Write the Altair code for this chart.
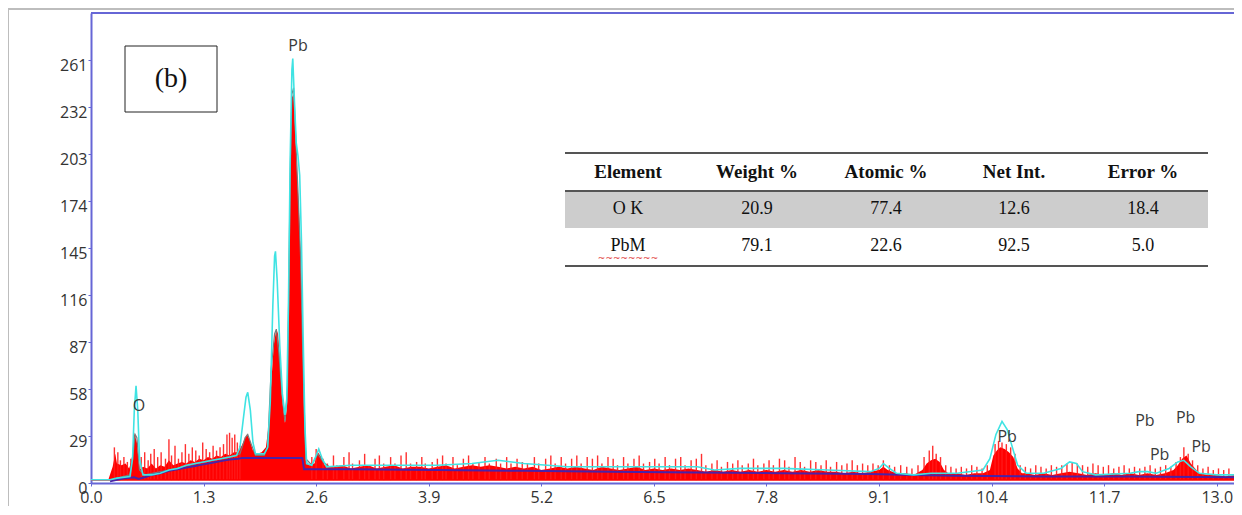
import altair as alt
import pandas as pd

# ---------------- data ----------------
# dense red spectrum (energy keV, counts)
area_pts = [(0.20,2),(0.25,10),(0.28,18),(0.30,12),(0.35,11),(0.40,12),(0.44,9),(0.47,14),(0.50,31),(0.53,25),
            (0.56,8),(0.60,10),(0.65,9),(0.70,12),(0.75,9),(0.80,11),(0.85,10),(0.90,14),(0.95,11),(1.00,12),
            (1.05,13),(1.10,12),(1.15,14),(1.20,13),(1.25,15),(1.30,14),(1.35,16),(1.40,15),(1.45,17),(1.50,16),
            (1.55,18),(1.60,17),(1.65,19),(1.70,19),(1.75,24),(1.80,30),(1.83,27),(1.87,20),(1.92,18),(1.97,19),
            (2.02,22),(2.05,35),(2.08,60),(2.11,85),(2.14,95),(2.16,92),(2.18,78),(2.21,50),(2.24,37),(2.26,45),
            (2.28,120),(2.30,200),(2.32,238),(2.34,240),(2.36,215),(2.38,190),(2.40,170),(2.42,140),(2.44,95),(2.46,45),
            (2.48,14),(2.52,11),(2.58,12),(2.62,19),(2.66,16),(2.70,11),(2.8,10),(2.9,11),(3.0,9),(3.1,10),
            (3.2,11),(3.3,9),(3.4,10),(3.5,11),(3.6,9),(3.7,10),(3.8,10),(3.9,9),(4.0,10),(4.1,11),
            (4.2,9),(4.3,10),(4.4,11),(4.5,10),(4.6,11),(4.7,10),(4.8,9),(4.9,10),(5.0,9),(5.1,10),
            (5.2,8),(5.3,9),(5.4,10),(5.5,9),(5.6,10),(5.7,9),(5.8,8),(5.9,10),(6.0,9),(6.1,8),
            (6.2,9),(6.3,10),(6.4,8),(6.5,9),(6.6,8),(6.7,9),(6.8,8),(6.9,9),(7.0,8),(7.1,7),
            (7.2,8),(7.3,7),(7.4,8),(7.5,7),(7.6,8),(7.7,7),(7.8,8),(7.9,7),(8.0,8),(8.1,7),
            (8.2,8),(8.3,7),(8.4,8),(8.5,7),(8.6,7),(8.7,6),(8.8,7),(8.9,6),(9.0,7),(9.1,8),
            (9.15,10),(9.2,8),(9.3,6),(9.4,6),(9.5,5),(9.6,8),(9.65,12),(9.7,14),(9.75,15),(9.8,13),
            (9.85,8),(9.9,6),(10.0,6),(10.1,5),(10.2,6),(10.3,6),(10.38,8),(10.42,17),(10.46,20),(10.5,22),
            (10.55,21),(10.6,19),(10.65,16),(10.7,9),(10.75,6),(10.8,6),(10.9,5),(11.0,6),(11.1,5),(11.2,6),
            (11.3,7),(11.4,6),(11.5,5),(11.6,6),(11.7,5),(11.8,6),(11.9,5),(12.0,6),(12.1,5),(12.2,6),
            (12.3,5),(12.4,6),(12.5,8),(12.55,11),(12.6,15),(12.65,17),(12.7,12),(12.75,9),(12.8,6),(12.9,5),
            (13.0,5),(13.1,4),(13.2,5),(13.3,4)]

# thin noise spikes of the red spectrum
spike_pts = [(0.27,22),(0.31,19),(0.34,14),(0.38,16),(0.42,13),(0.46,15),
             (0.58,16),(0.62,19),(0.66,14),(0.69,18),(0.73,21),(0.77,16),(0.81,19),(0.86,15),(0.90,27),(0.93,17),
             (0.97,23),(1.01,15),(1.05,19),(1.09,24),(1.13,18),(1.17,22),(1.21,20),(1.25,17),(1.29,25),(1.33,21),
             (1.37,19),(1.41,23),(1.45,20),(1.49,22),(1.53,24),(1.57,30),(1.60,31),(1.63,28),(1.66,30),(1.69,25),(1.72,23),
             (2.55,16),(2.60,21),(2.68,15),(2.73,12),(2.80,17),(2.84,11),(2.92,16),(2.98,19),(3.02,12),(3.10,14),
             (3.16,18),(3.21,11),(3.28,15),(3.33,17),(3.38,12),(3.46,16),(3.51,12),(3.58,17),(3.64,19),(3.69,12),
             (3.76,13),(3.82,16),(3.86,12),(3.94,13),(4.00,15),(4.06,17),(4.10,12),(4.18,16),(4.23,11),(4.30,15),
             (4.36,17),(4.41,12),(4.48,13),(4.55,16),(4.60,12),(4.68,15),(4.73,12),(4.80,16),(4.85,12),(4.92,15),
             (4.98,13),(5.04,12),(5.12,16),(5.17,12),(5.25,15),(5.31,17),(5.36,12),(5.43,16),(5.48,12),(5.55,15),
             (5.61,17),(5.66,12),(5.73,16),(5.79,15),(5.85,17),(5.90,12),(5.97,16),(6.03,15),(6.08,11),(6.15,16),
             (6.20,12),(6.27,15),(6.33,17),(6.38,12),(6.45,13),(6.51,15),(6.56,12),(6.63,16),(6.68,11),(6.75,15),
             (6.81,16),(6.86,11),(6.93,14),(6.99,15),(7.05,18),(7.10,11),(7.17,12),(7.23,14),(7.28,10),(7.35,13),
             (7.41,12),(7.47,14),(7.52,11),(7.59,12),(7.65,15),(7.70,11),(7.77,12),(7.83,14),(7.88,11),(7.95,15),
             (8.01,14),(8.06,10),(8.13,16),(8.19,13),(8.24,10),(8.31,14),(8.37,13),(8.43,11),(8.49,14),(8.54,10),
             (8.61,13),(8.67,11),(8.73,12),(8.79,14),(8.85,11),(8.91,12),(8.97,11),(9.03,12),(9.09,11),(9.15,14),
             (9.22,11),(9.28,10),(9.35,11),(9.42,10),(9.48,9),(9.55,11),(9.62,16),(9.68,20),(9.72,23),(9.76,18),
             (9.81,16),(9.87,11),(9.93,10),(9.99,9),(10.05,10),(10.11,9),(10.17,11),(10.23,10),(10.29,9),(10.35,11),
             (10.44,24),(10.48,26),(10.52,25),(10.57,24),(10.62,22),(10.67,18),(10.73,11),(10.79,10),(10.85,9),(10.91,11),
             (10.97,10),(11.03,9),(11.09,11),(11.15,10),(11.21,11),(11.27,12),(11.33,13),(11.39,12),(11.45,11),(11.51,10),
             (11.57,12),(11.63,11),(11.69,10),(11.75,11),(11.81,9),(11.87,10),(11.93,11),(11.99,9),(12.05,10),(12.11,9),
             (12.17,10),(12.23,11),(12.29,9),(12.35,10),(12.41,11),(12.47,10),(12.53,13),(12.58,16),(12.62,22),(12.67,18),
             (12.72,14),(12.78,11),(12.84,9),(12.90,10),(12.96,8),(13.02,9),(13.08,8),(13.14,9)]

# cyan fitted spectrum
fit_pts = [(0.0,2),(0.22,2),(0.3,3),(0.45,4),(0.48,15),(0.50,45),(0.52,60),(0.54,45),(0.56,15),(0.6,5),
           (0.7,5),(0.8,6),(0.9,8),(1.0,9),(1.1,11),(1.2,12),(1.3,13),(1.4,14),(1.5,15),(1.6,16),
           (1.68,17),(1.72,22),(1.76,40),(1.79,53),(1.81,56),(1.84,45),(1.87,25),(1.9,18),(2.0,18),(2.04,22),
           (2.07,50),(2.10,110),(2.12,140),(2.13,143),(2.15,125),(2.18,85),(2.21,55),(2.24,42),(2.26,50),(2.28,110),
           (2.30,200),(2.32,255),(2.33,262),(2.35,235),(2.37,210),(2.39,202),(2.41,190),(2.43,150),(2.45,90),(2.47,35),
           (2.49,12),(2.55,11),(2.60,17),(2.63,21),(2.67,15),(2.72,10),(3.0,11),(3.5,11),(4.0,11),(4.4,12),
           (4.7,14),(5.0,12),(5.5,10),(6.0,10),(6.5,10),(7.0,10),(7.2,8),(7.5,9),(8.0,9),(8.5,8),
           (9.0,7),(9.1,9),(9.15,12),(9.22,9),(9.3,6),(9.5,5),(9.7,6),(10.0,6),(10.3,8),(10.38,15),
           (10.45,30),(10.52,38),(10.58,33),(10.64,22),(10.7,11),(10.8,6),(11.0,6),(11.2,9),(11.3,13),(11.38,12),
           (11.45,7),(11.6,5),(12.0,6),(12.1,7),(12.2,7),(12.3,6),(12.45,9),(12.55,13),(12.62,14),(12.7,10),
           (12.8,6),(13.0,5),(13.3,5)]

# gray spectrum outline (low energy part)
gray_pts = [(0.22,2),(0.45,5),(0.49,20),(0.51,30),(0.53,28),(0.56,8),(0.62,5),(0.9,8),(1.3,13),(1.6,16),
            (1.72,18),(1.78,28),(1.81,30),(1.85,24),(1.9,17),(2.0,17),(2.04,22),(2.08,70),(2.12,92),(2.14,95),
            (2.17,80),(2.21,52),(2.24,38),(2.27,60),(2.30,190),(2.32,240),(2.34,244),(2.36,218),(2.39,180),(2.42,140),
            (2.45,70),(2.48,15),(2.55,11),(2.62,18),(2.68,13),(2.75,10)]

# purple background
bg_pts = [(0.22,1),(0.3,2),(0.4,3),(0.5,3.5),(0.55,2.5),(0.62,3.5),(0.7,5),(0.8,6),(0.9,7.5),(1.0,8.5),
          (1.1,9.5),(1.2,10.5),(1.3,11.5),(1.4,12.5),(1.5,13.5),(1.6,14.5),(1.7,15),(1.75,15.5),(2.44,15.5),(2.46,8.5),
          (3.0,8.5),(4.0,8),(5.0,7.5),(6.0,7),(7.0,6.5),(8.0,6),(9.0,5.5),(9.5,5),(10.0,4.5),(11.0,4),
          (12.0,4),(13.3,3.5)]

peak_text = ["Pb", "O", "Pb", "Pb", "Pb", "Pb", "Pb"]
peak_e = [2.39, 0.554, 10.58, 12.17, 12.64, 12.34, 12.82]
peak_c = [269.8, 47.5, 28.4, 38.3, 40.1, 17.3, 22.2]

x_ticks = [0.0, 1.3, 2.6, 3.9, 5.2, 6.5, 7.8, 9.1, 10.4, 11.7, 13.0]
y_ticks = [0, 29, 58, 87, 116, 145, 174, 203, 232, 261]

table_head = ["Element", "Weight %", "Atomic %", "Net Int.", "Error %"]
table_rows = [["O K", "20.9", "77.4", "12.6", "18.4"],
              ["PbM", "79.1", "22.6", "92.5", "5.0"]]
panel_label = "(b)"

# ---------------- layout / style ----------------
W, H = 1143, 470
XMAX, YMAX = 13.199, 290.1
BLUE = "#6666d6"
BASE = 1.8

def frame(pts):
    return pd.DataFrame(pts, columns=["e", "c"])

xs = alt.Scale(domain=[0, XMAX], nice=False, zero=False)
ys = alt.Scale(domain=[0, YMAX], nice=False, zero=False)
x_axis = alt.Axis(values=x_ticks, format=".1f", title=None, grid=False, domainColor=BLUE, domainWidth=2,
                  tickColor=BLUE, tickSize=3, labelFont="Open Sans", labelFontSize=16, labelColor="#333333",
                  labelPadding=3, labelFlush=False, labelOverlap=False)
y_axis = alt.Axis(values=y_ticks, format="d", title=None, grid=False, domainColor=BLUE, domainWidth=2,
                  tickColor=BLUE, tickSize=3, labelFont="Open Sans", labelFontSize=16, labelColor="#333333",
                  labelPadding=1, labelOffset=5, labelFlush=False, labelOverlap=False)

def X():
    return alt.X("e:Q", scale=xs, axis=x_axis)

def Y():
    return alt.Y("c:Q", scale=ys, axis=y_axis)

one = pd.DataFrame({"k": [0]})

layers = []
layers.append(alt.Chart(frame(area_pts)).mark_area(color="#ff0000", interpolate="linear", clip=True)
              .encode(x=X(), y=Y(), y2=alt.datum(BASE)))
layers.append(alt.Chart(frame(spike_pts)).mark_rule(color="#ff1a1a", strokeWidth=1.4, opacity=0.9, clip=True)
              .encode(x=X(), y=Y(), y2=alt.datum(BASE)))
layers.append(alt.Chart(one).mark_rule(color="#ff0000", strokeWidth=1.5).encode(y=alt.datum(BASE)))
layers.append(alt.Chart(frame(gray_pts)).mark_line(color="#7a7a7a", strokeWidth=1.2, clip=True).encode(x=X(), y=Y()))
layers.append(alt.Chart(frame(bg_pts)).mark_line(color="#4a22a8", strokeWidth=2, clip=True).encode(x=X(), y=Y()))
layers.append(alt.Chart(frame(fit_pts)).mark_line(color="#3fe3e3", strokeWidth=1.6, clip=True).encode(x=X(), y=Y()))
layers.append(alt.Chart(pd.DataFrame({"t": peak_text, "e": peak_e, "c": peak_c}))
              .mark_text(font="Open Sans", fontSize=16, color="#3a3a3a")
              .encode(x=X(), y=Y(), text="t:N"))

# frame lines
layers.append(alt.Chart(one).mark_rule(color=BLUE, strokeWidth=2).encode(y=alt.value(0)))
layers.append(alt.Chart(one).mark_rule(color="#bdbdbd", strokeWidth=2)
              .encode(x=alt.value(-83), y=alt.value(-5), y2=alt.value(H + 40)))
layers.append(alt.Chart(one).mark_rule(color="#bdbdbd", strokeWidth=2)
              .encode(y=alt.value(-4), x=alt.value(-83), x2=alt.value(W)))

# panel label box
layers.append(alt.Chart(one).mark_rect(fill="white", stroke="#222222", strokeWidth=1)
              .encode(x=alt.value(34), x2=alt.value(126), y=alt.value(33), y2=alt.value(99)))
layers.append(alt.Chart(one).mark_text(font="Liberation Serif", fontSize=28, color="#111111", text=panel_label)
              .encode(x=alt.value(80), y=alt.value(66)))

# table
T_L, T_R = 474, 1117
col_x = [537, 666, 795, 923, 1052]
row_y = [159, 196, 233]
layers.append(alt.Chart(one).mark_rect(fill="#cdcdcd")
              .encode(x=alt.value(T_L), x2=alt.value(T_R), y=alt.value(178), y2=alt.value(215)))
for yy in (140, 178, 253):
    layers.append(alt.Chart(one).mark_rule(color="#555555", strokeWidth=2)
                  .encode(x=alt.value(T_L), x2=alt.value(T_R), y=alt.value(yy)))
for cx, txt in zip(col_x, table_head):
    layers.append(alt.Chart(one).mark_text(font="Liberation Serif", fontSize=19, fontWeight="bold",
                                           color="#111111", text=txt)
                  .encode(x=alt.value(cx), y=alt.value(row_y[0])))
for ry, row in zip(row_y[1:], table_rows):
    for cx, txt in zip(col_x, row):
        layers.append(alt.Chart(one).mark_text(font="Liberation Serif", fontSize=18,
                                               color="#111111", text=txt)
                      .encode(x=alt.value(cx), y=alt.value(ry)))
# spell-check squiggle under "PbM"
layers.append(alt.Chart(one).mark_text(font="DejaVu Sans", fontSize=9, color="#e03030",
                                       text="~~~~~~~~")
              .encode(x=alt.value(col_x[0]), y=alt.value(row_y[2] + 12)))

chart = alt.layer(*layers).properties(
    width=W, height=H,
    padding={"left": 83, "top": 5, "right": 0, "bottom": 23},
    autosize=alt.AutoSizeParams(type="none"),
).configure_view(strokeWidth=0)

chart.save("out.html", embed_options={"renderer": "svg", "actions": False})
